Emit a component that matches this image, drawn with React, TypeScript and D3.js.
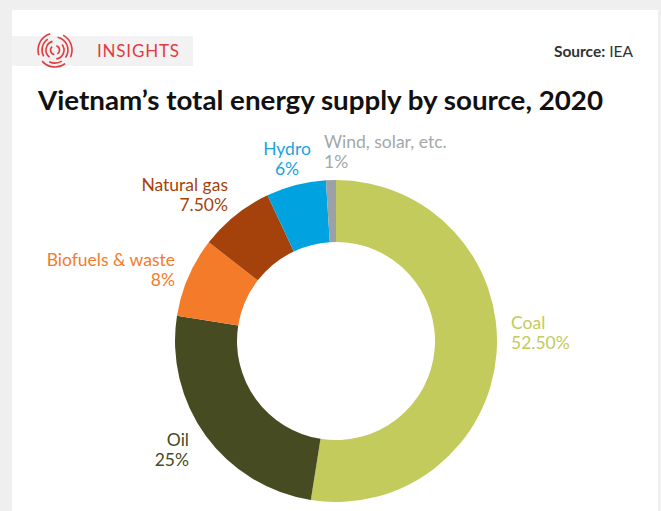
import React from "react";
import * as d3 from "d3";

const categories = ["Coal", "Oil", "Biofuels & waste", "Natural gas", "Hydro", "Wind, solar, etc."];
const values = [52.5, 25, 8, 7.5, 6, 1];
const valueLabels = ["52.50%", "25%", "8%", "7.50%", "6%", "1%"];
const colors = ["#c2cb5b", "#474b22", "#f47b2a", "#a5420c", "#00a3e0", "#9ba1a4"];
const labelColors = ["#c2cb5b", "#474b22", "#f47b2a", "#a5420c", "#1aa3e0", "#a3a7aa"];

// label layout (text placement only)
const labelLayout: Record<string, { x: number; y: number; anchor: string }> = {
  "Coal": { x: 511, y: 329, anchor: "start" },
  "Oil": { x: 189, y: 446, anchor: "end" },
  "Biofuels & waste": { x: 175, y: 266, anchor: "end" },
  "Natural gas": { x: 228, y: 191, anchor: "end" },
  "Hydro": { x: 287, y: 155, anchor: "middle" },
  "Wind, solar, etc.": { x: 324, y: 148, anchor: "start" },
};

const W = 661;
const H = 511;
const cx = 336;
const cy = 341;
const FONT = "Lato, 'Open Sans', sans-serif";

export default function App() {
  const pie = d3.pie<number>().sort(null).value((d) => d).startAngle(0).endAngle(2 * Math.PI);
  const arcs = pie(values);
  const arc = d3.arc<d3.PieArcDatum<number>>().innerRadius(99).outerRadius(161);

  const logoArc = d3.arc<any>();
  const logoPieces = [
    { r: 4.5, a0: 0.3, a1: 2.6 }, { r: 4.5, a0: 3.3, a1: 5.6 },
    { r: 9, a0: 0.9, a1: 3.0 }, { r: 9, a0: 3.8, a1: 6.0 },
    { r: 13, a0: 0.2, a1: 2.2 }, { r: 13, a0: 2.6, a1: 3.6 }, { r: 13, a0: 4.2, a1: 5.7 },
    { r: 17, a0: 0.5, a1: 2.0 }, { r: 17, a0: 2.5, a1: 4.0 }, { r: 17, a0: 4.4, a1: 6.0 },
  ];

  return (
    <svg width={W} height={H} style={{ position: "absolute", left: 0, top: 0, fontFamily: FONT }}>
      <rect x={0} y={0} width={W} height={H} fill="#efefef" />
      <rect x={12} y={10} width={646} height={H - 10} fill="#ffffff" />
      <rect x={12} y={36} width={181} height={30} fill="#f2f2f2" />
      <g transform="translate(55,50)">
        {logoPieces.map((p, i) => (
          <path
            key={i}
            d={logoArc({ innerRadius: p.r - 0.8, outerRadius: p.r + 0.8, startAngle: p.a0, endAngle: p.a1 }) as string}
            fill="#e23b3f"
          />
        ))}
      </g>
      <text x={97} y={57} fontSize={17} fill="#e23b3f" letterSpacing={0.8}>INSIGHTS</text>
      <text x={633} y={57} fontSize={15.5} fill="#333" textAnchor="end">
        <tspan fontWeight="bold">Source:</tspan> IEA
      </text>
      <text x={38} y={110} fontSize={27} fontWeight="bold" fill="#111" textLength={565} lengthAdjust="spacingAndGlyphs">
        Vietnam’s total energy supply by source, 2020
      </text>
      <g transform={`translate(${cx},${cy})`}>
        {arcs.map((a, i) => (
          <path key={categories[i]} d={arc(a) as string} fill={colors[i]} />
        ))}
      </g>
      {categories.map((c, i) => {
        const l = labelLayout[c];
        return (
          <text key={c} x={l.x} y={l.y} fontSize={17.5} fill={labelColors[i]} textAnchor={l.anchor as any}>
            <tspan x={l.x}>{c}</tspan>
            <tspan x={l.x} dy={20}>{valueLabels[i]}</tspan>
          </text>
        );
      })}
    </svg>
  );
}
